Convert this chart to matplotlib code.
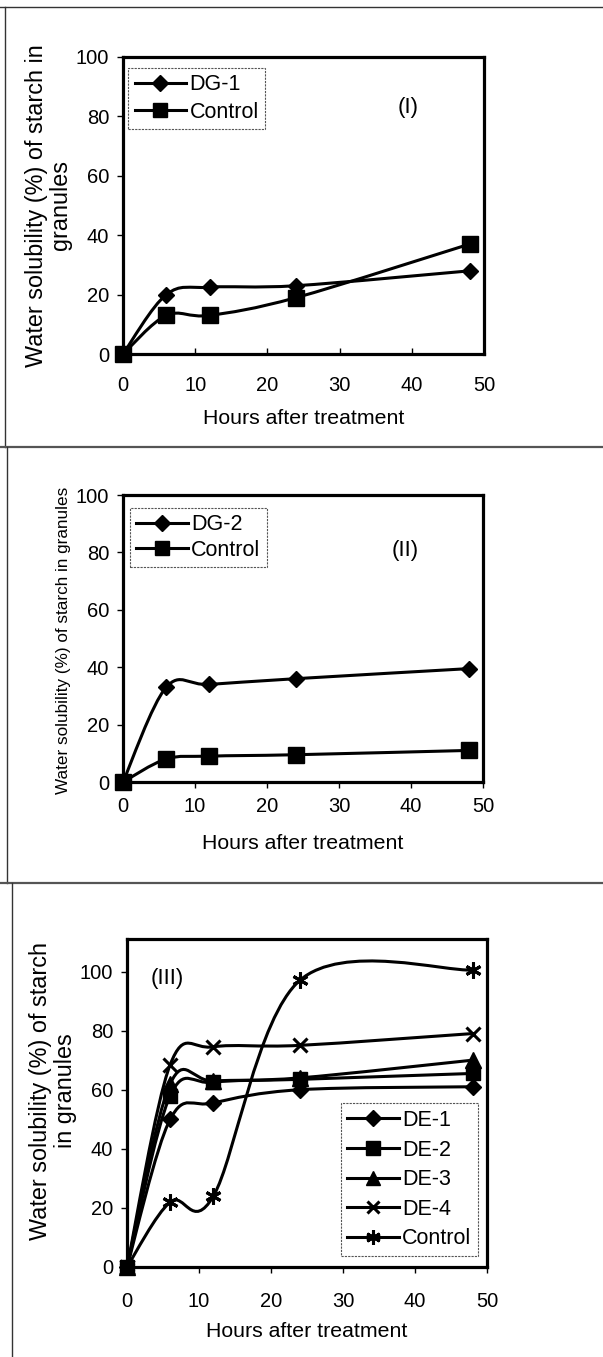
import numpy as np
import matplotlib
matplotlib.use("Agg")
import matplotlib.pyplot as plt
from matplotlib.path import Path
from matplotlib.patches import PathPatch
from matplotlib.lines import Line2D

plt.rcParams['font.family'] = ['Liberation Sans', 'DejaVu Sans']

# ---------------- data ----------------
hours = [0, 6, 12, 24, 48]

p1_dg1 = [0, 20, 22.5, 23, 28]
p1_control = [0, 13, 13, 19, 37]

p2_dg2 = [0, 33, 34, 36, 39.5]
p2_control = [0, 8, 9, 9.5, 11]

p3_de1 = [0, 50, 55.5, 60, 61]
p3_de2 = [0, 58, 62.5, 63.5, 65.5]
p3_de3 = [0, 62, 63, 64, 70]
p3_de4 = [0, 68.5, 74.5, 75, 79]
p3_control = [0, 22, 24, 97, 100.5]

xticks = [0, 10, 20, 30, 40, 50]
yticks = [0, 20, 40, 60, 80, 100]

ylabel_1 = "Water solubility (%) of starch in\ngranules"
ylabel_2 = "Water solubility (%) of starch in granules"
ylabel_3 = "Water solubility (%) of starch\nin granules"
xlabel = "Hours after treatment"

W, H = 603, 1357
fig = plt.figure(figsize=(W / 100, H / 100), dpi=100)


def smooth_path(x, y):
    pts = np.column_stack([np.asarray(x, float), np.asarray(y, float)])
    n = len(pts)
    verts = [pts[0]]
    codes = [Path.MOVETO]
    for i in range(n - 1):
        p0 = pts[i - 1] if i > 0 else pts[i]
        p1 = pts[i]
        p2 = pts[i + 1]
        p3 = pts[i + 2] if i + 2 < n else pts[i + 1]
        c1 = p1 + (p2 - p0) / 6.0
        c2 = p2 - (p3 - p1) / 6.0
        verts += [c1, c2, p2]
        codes += [Path.CURVE4] * 3
    return Path(verts, codes)


LW = 2.2


def series(ax, x, y, marker, ms, mew=1.0):
    patch = PathPatch(smooth_path(x, y), facecolor='none', edgecolor='black',
                      lw=LW, transform=ax.transData, zorder=3, clip_on=False)
    ax.add_patch(patch)
    ax.plot(x, y, ls='none', marker=marker, ms=ms, color='black', mec='black',
            mew=mew, zorder=4, clip_on=False)
    return Line2D([], [], color='black', lw=LW, marker=marker, ms=ms * 0.9, mew=mew)


def px_axes(left, right, top, bottom):
    return fig.add_axes([left / W, 1 - bottom / H, (right - left) / W, (bottom - top) / H])


def style(ax, ymax, xtickdir, xpad, xlab_y):
    ax.set_xlim(0, 50)
    ax.set_ylim(0, ymax)
    ax.set_xticks(xticks)
    ax.set_yticks(yticks)
    for s in ax.spines.values():
        s.set_linewidth(2.3)
    ax.tick_params(axis='x', direction=xtickdir, length=4, width=1, labelsize=14.5, pad=xpad)
    ax.tick_params(axis='y', direction='out', length=4, width=1, labelsize=14.5, pad=6)
    ax.set_xlabel(xlabel, fontsize=15.3)
    ax.xaxis.set_label_coords(0.5, xlab_y)


def legend(ax, handles, labels, loc, anchor, spacing):
    leg = ax.legend(handles, labels, loc=loc, bbox_to_anchor=anchor, borderaxespad=0,
                    fontsize=15.5, handlelength=2.4, handletextpad=0.15,
                    labelspacing=spacing, borderpad=0.3, fancybox=False,
                    frameon=True, framealpha=1)
    fr = leg.get_frame()
    fr.set_edgecolor('#555555')
    fr.set_linewidth(0.8)
    fr.set_linestyle((0, (2, 1)))
    return leg


# ---------------- Panel I ----------------
ax1 = px_axes(123, 484, 57, 354)
style(ax1, 100, 'in', 16, -0.185)
h1 = series(ax1, hours, p1_dg1, 'D', 8.5)
h2 = series(ax1, hours, p1_control, 's', 11)
legend(ax1, [h1, h2], ['DG-1', 'Control'], 'upper left', (0.014, 0.963), 0.3)
ax1.text(0.79, 0.83, '(I)', transform=ax1.transAxes, fontsize=16, ha='center', va='center')
ax1.set_ylabel(ylabel_1, fontsize=16.8, linespacing=1.08)
ax1.yaxis.set_label_coords(-0.14, 0.5)

# ---------------- Panel II ----------------
ax2 = px_axes(123, 483, 495, 782)
style(ax2, 100, 'out', 7, -0.18)
h1 = series(ax2, hours, p2_dg2, 'D', 8.5)
h2 = series(ax2, hours, p2_control, 's', 11)
legend(ax2, [h1, h2], ['DG-2', 'Control'], 'upper left', (0.019, 0.955), 0.2)
ax2.text(0.783, 0.808, '(II)', transform=ax2.transAxes, fontsize=16, ha='center', va='center')
ax2.set_ylabel(ylabel_2, fontsize=12.3)
ax2.yaxis.set_label_coords(-0.145, 0.495)

# ---------------- Panel III ----------------
ax3 = px_axes(127, 487, 939, 1267)
style(ax3, 111, 'out', 14, -0.168)
h1 = series(ax3, hours, p3_de1, 'D', 8.5)
h2 = series(ax3, hours, p3_de2, 's', 10.5)
h3 = series(ax3, hours, p3_de3, '^', 11)
h4 = series(ax3, hours, p3_de4, 'x', 10, mew=2.2)
h5 = series(ax3, hours, p3_control, (6, 2, 0), 11.5, mew=2.2)
legend(ax3, [h1, h2, h3, h4, h5], ['DE-1', 'DE-2', 'DE-3', 'DE-4', 'Control'],
       'lower right', (0.975, 0.034), 0.4)
ax3.text(0.111, 0.881, '(III)', transform=ax3.transAxes, fontsize=16, ha='center', va='center')
ax3.set_ylabel(ylabel_3, fontsize=16.8, linespacing=1.1)
ax3.yaxis.set_label_coords(-0.14, 0.537)

# ---------------- panel frames (scan borders) ----------------
def fline(x0, y0, x1, y1, lw=1.0, color='#333333'):
    fig.add_artist(Line2D([x0 / W, x1 / W], [1 - y0 / H, 1 - y1 / H], lw=lw, color=color))

fline(0, 7, W, 7, lw=1.0)
fline(5, 7, 5, 447, lw=1.0)
fline(0, 447, W, 447, lw=1.6, color='#555555')
fline(7, 447, 7, 883, lw=1.0)
fline(0, 883, W, 883, lw=1.6, color='#555555')
fline(12, 883, 12, H, lw=1.0)

fig.savefig('out.png', dpi=100)
